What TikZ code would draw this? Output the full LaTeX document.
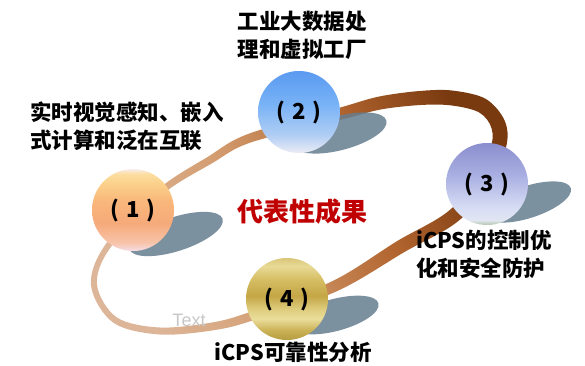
\documentclass[tikz,border=0pt]{standalone}
\usepackage{fontspec}
\newfontfamily\cjk{Noto Sans CJK SC}
\newfontfamily\latinf{Liberation Sans}
\definecolor{ringA}{HTML}{DDB699}
\definecolor{ringB}{HTML}{D49E72}
\definecolor{ringC}{HTML}{B2652F}
\definecolor{ringD}{HTML}{7A3A10}
\definecolor{shadowc}{RGB}{102,126,143}
\definecolor{redtxt}{HTML}{C00000}
\pgfdeclarehorizontalshading{ringshade}{100bp}{color(0bp)=(ringA); color(25bp)=(ringA); color(42bp)=(ringB); color(60bp)=(ringC); color(75bp)=(ringD); color(100bp)=(ringD)}
\pgfdeclareverticalshading{ballone}{100bp}{color(0bp)=(rgb,255:red,246;green,222;blue,232); color(25bp)=(rgb,255:red,246;green,222;blue,232); color(30bp)=(rgb,255:red,247;green,196;blue,170); color(42bp)=(rgb,255:red,246;green,170;blue,122); color(55bp)=(rgb,255:red,249;green,182;blue,122); color(66bp)=(rgb,255:red,251;green,208;blue,138); color(72bp)=(rgb,255:red,252;green,222;blue,160); color(75bp)=(rgb,255:red,250;green,236;blue,236); color(100bp)=(rgb,255:red,250;green,236;blue,236)}
\pgfdeclareverticalshading{balltwo}{100bp}{color(0bp)=(rgb,255:red,236;green,236;blue,246); color(25bp)=(rgb,255:red,236;green,236;blue,246); color(36bp)=(rgb,255:red,176;green,206;blue,244); color(55bp)=(rgb,255:red,120;green,178;blue,246); color(75bp)=(rgb,255:red,90;green,154;blue,240); color(100bp)=(rgb,255:red,90;green,154;blue,240)}
\pgfdeclareverticalshading{ballthree}{100bp}{color(0bp)=(rgb,255:red,178;green,198;blue,170); color(25bp)=(rgb,255:red,178;green,198;blue,170); color(28bp)=(rgb,255:red,226;green,230;blue,242); color(36bp)=(rgb,255:red,214;green,220;blue,244); color(55bp)=(rgb,255:red,170;green,176;blue,226); color(75bp)=(rgb,255:red,138;green,142;blue,206); color(100bp)=(rgb,255:red,138;green,142;blue,206)}
\pgfdeclareverticalshading{ballfour}{100bp}{color(0bp)=(rgb,255:red,182;green,156;blue,66); color(25bp)=(rgb,255:red,182;green,156;blue,66); color(31bp)=(rgb,255:red,204;green,178;blue,86); color(38bp)=(rgb,255:red,234;green,222;blue,156); color(44bp)=(rgb,255:red,222;green,204;blue,124); color(52bp)=(rgb,255:red,196;green,166;blue,70); color(62bp)=(rgb,255:red,214;green,190;blue,100); color(70bp)=(rgb,255:red,232;green,218;blue,150); color(75bp)=(rgb,255:red,218;green,198;blue,120); color(100bp)=(rgb,255:red,218;green,198;blue,120)}
\newcommand{\balllbl}[1]{(\hspace{7pt}#1\hspace{7pt})}
\tikzset{
  ball/.style={circle, inner sep=0pt, minimum size=82pt, font=\cjk\bfseries\fontsize{22}{22}\selectfont},
  shadowell/.style={fill=shadowc, fill opacity=0.85},
  lbl/.style={font=\cjk\bfseries\fontsize{21.5}{28}\selectfont, inner sep=0pt, text=black},
}
\begin{document}
\begin{tikzpicture}[x=1pt, y=-1pt]
\useasboundingbox (0,0) rectangle (585,365);
\fill[white] (0,0) rectangle (585,365);
% ring
\shade[shading=ringshade, shading angle=23, even odd rule]
  plot[smooth cycle, tension=0.55] coordinates {(105.6,244.3) (91.0,285.3) (113.2,322.6) (159.8,334.5) (215.7,329.9) (256.4,319.3) (337.3,291.0) (403.4,252.6) (462.9,217.0) (501.8,158.3) (506.3,125.2) (486.9,99.6) (452.9,90.6) (419.5,91.0) (378.8,96.6) (341.4,107.2) (248.5,133.8) (208.0,156.7) (157.9,189.5)}
  plot[smooth cycle, tension=0.55] coordinates {(110.4,247.7) (97.0,284.7) (116.8,317.4) (160.2,327.5) (214.3,322.1) (253.6,310.7) (332.7,281.0) (396.6,241.4) (453.1,207.0) (488.2,151.7) (491.7,128.8) (479.1,112.4) (451.1,105.4) (420.5,105.0) (381.2,109.4) (344.6,118.8) (251.5,142.2) (212.0,163.3) (162.1,194.5)};
% shadows
\fill[shadowell, rotate around={18:(176,234)}] (176,234) ellipse [x radius=49, y radius=17];
\fill[shadowell, rotate around={15:(340,133)}] (340,133) ellipse [x radius=48, y radius=17];
\fill[shadowell, rotate around={18:(528,202)}] (528,202) ellipse [x radius=45, y radius=16];
\fill[shadowell, rotate around={15:(335,315)}] (335,315) ellipse [x radius=45, y radius=16];
% balls
\node[ball, shading=ballone] (b1) at (133,210) {\balllbl{1}};
\node[ball, shading=balltwo] (b2) at (299,112) {\balllbl{2}};
\node[ball, shading=ballthree] (b3) at (487,184) {\balllbl{3}};
\node[ball, shading=ballfour] (b4) at (287,299) {\balllbl{4}};
% texts
\node[lbl, align=center] (t2) at (302,35) {工业大数据处\\理和虚拟工厂};
\node[lbl, align=left, anchor=west] (t1) at (30,126) {实时视觉感知、嵌入\\式计算和泛在互联};
\node[lbl, align=left, anchor=west] (t3) at (416,254) {iCPS的控制优\\化和安全防护};
\node[lbl] (t4) at (293,352) {iCPS可靠性分析};
\node[font=\cjk\bfseries\fontsize{26}{26}\selectfont, text=redtxt, inner sep=0pt] (mid) at (302,212) {代表性成果};
\node[font=\latinf\fontsize{18}{18}\selectfont, text=black!22, inner sep=0pt] (wm) at (189,320) {Text};
\end{tikzpicture}
\end{document}
